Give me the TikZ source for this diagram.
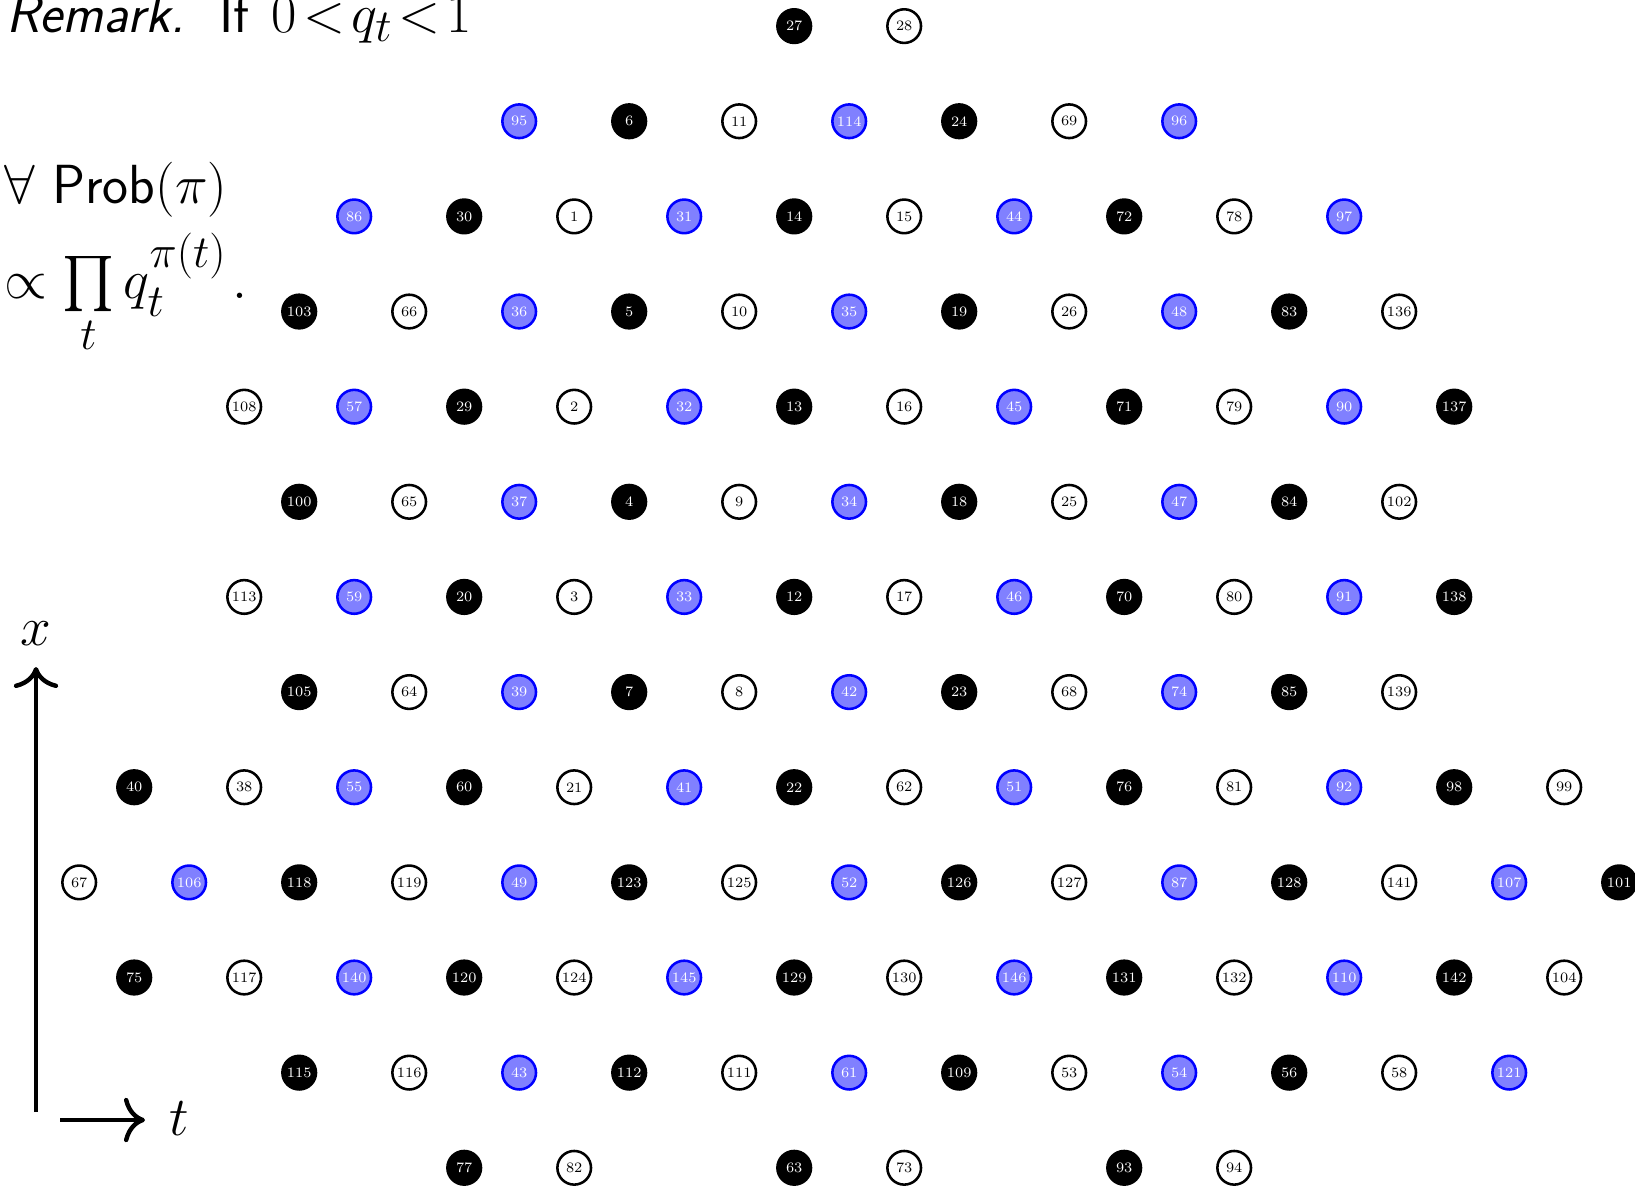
\documentclass[tikz,border=0pt]{standalone}
\usepackage{exscale}
\usetikzlibrary{arrows.meta}
\definecolor{dotblue}{rgb}{0.5,0.5,1}
\newcommand\latnode[3]{% row, column k, label
  \pgfmathtruncatemacro\cc{mod(mod((#2-3*#1-1)/2,3)+3,3)}%
  \edef\sty{dot\cc}%
  \node[\sty] (n#3) at ({79.2+55*#2},{26.1+95.14*#1}) {#3};}
\newcommand\latrow[3]{% row, first k, labels
  \foreach \lab [count=\i from 0] in {#3}{%
    \pgfmathtruncatemacro\kk{#2+2*\i}%
    \latnode{#1}{\kk}{\lab}}}
\begin{document}
\begin{tikzpicture}[x=0.4516pt,y=-0.4516pt,
  dotbase/.style={circle,minimum size=15.2pt,inner sep=0pt,line width=1.15pt,font=\fontsize{6.5}{7}\selectfont},
  dot0/.style={dotbase,fill=black,draw=black,text=white},
  dot1/.style={dotbase,fill=white,draw=black,text=black},
  dot2/.style={dotbase,fill=dotblue,draw=blue,text=white},
  bigtext/.style={font=\sffamily\Huge,inner sep=0pt,anchor=base west},
  axislabel/.style={font=\Huge,inner sep=0pt},
  axisarrow/.style={line width=2pt,-{Computer Modern Rightarrow[length=9.5pt,width=20pt]}}]
\useasboundingbox (0,0) rectangle (1635,1185);
% lattice
\latrow{0}{13}{27,28}
\latrow{1}{8}{95,6,11,114,24,69,96}
\latrow{2}{5}{86,30,1,31,14,15,44,72,78,97}
\latrow{3}{4}{103,66,36,5,10,35,19,26,48,83,136}
\latrow{4}{3}{108,57,29,2,32,13,16,45,71,79,90,137}
\latrow{5}{4}{100,65,37,4,9,34,18,25,47,84,102}
\latrow{6}{3}{113,59,20,3,33,12,17,46,70,80,91,138}
\latrow{7}{4}{105,64,39,7,8,42,23,68,74,85,139}
\latrow{8}{1}{40,38,55,60,21,41,22,62,51,76,81,92,98,99}
\latrow{9}{0}{67,106,118,119,49,123,125,52,126,127,87,128,141,107,101}
\latrow{10}{1}{75,117,140,120,124,145,129,130,146,131,132,110,142,104}
\latrow{11}{4}{115,116,43,112,111,61,109,53,54,56,58,121}
\latnode{12}{7}{77}
\latnode{12}{9}{82}
\latnode{12}{13}{63}
\latnode{12}{15}{73}
\latnode{12}{19}{93}
\latnode{12}{21}{94}
% text
\node[bigtext] (line1) at (6,32) {\textit{Remark.}\hspace{5.2pt} If\hspace{2.5pt} $0\!<\!q_t\!<\!1$};
\node[bigtext] (line2) at (4,203) {$\forall$ Prob$(\pi)$};
\node[bigtext] (line3) at (4,298) {$\propto\prod\limits_t q_t^{\pi(t)}\mkern2mu.$};
% axes
\coordinate (vaxS) at (36,1112);
\coordinate (vaxE) at (36,667);
\draw[axisarrow] (vaxS) -- (vaxE);
\node[axislabel,anchor=base] (xlab) at (36,645) {$x$};
\coordinate (haxS) at (60,1120);
\coordinate (haxE) at (145,1120);
\draw[axisarrow] (haxS) -- (haxE);
\node[axislabel,anchor=base west] (tlab) at (169,1135) {$t$};
\end{tikzpicture}
\end{document}
